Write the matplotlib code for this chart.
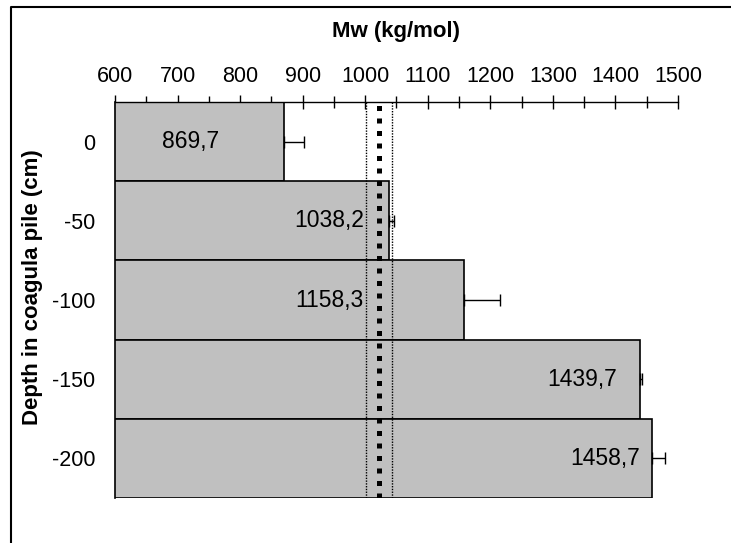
import numpy as np
import matplotlib.pyplot as plt
from matplotlib.lines import Line2D

plt.rcParams['font.family'] = ['Liberation Sans', 'DejaVu Sans']

# Molecular weight per depth in the coagula pile
depths = ['0', '-50', '-100', '-150', '-200']
mw = [869.7, 1038.2, 1158.3, 1439.7, 1458.7]
mw_err = [32, 8, 57, 3, 21]
mw_ref = 1022
mw_ref_band = 21

fig = plt.figure(figsize=(7.31, 5.43), dpi=100)
ax = fig.add_axes([115 / 731, 1 - 498 / 543, 563 / 731, 396 / 543])

y = np.arange(len(depths))
ax.barh(y, mw, height=1.0, left=0, color='#c0c0c0', edgecolor='black',
        linewidth=1.2, zorder=2)
ax.errorbar(mw, y, xerr=[np.zeros(len(mw)), mw_err], fmt='none',
            ecolor='black', elinewidth=1, capsize=4, capthick=1, zorder=3)

# reference value with its band
ax.axvline(mw_ref, color='black', lw=3.6, linestyle=(0, (1, 1.5)),
           dash_capstyle='butt', zorder=4)
for v in (mw_ref - mw_ref_band, mw_ref + mw_ref_band):
    ax.axvline(v, color='black', lw=1.0, linestyle=(0, (1, 1)), zorder=4)

# value labels, right-aligned inside each bar
label_gap = [65, 25, 101, 23, 12]
for yi, v, g in zip(y, mw, label_gap):
    ax.annotate(f'{v:.1f}'.replace('.', ','), (v, yi), xytext=(-g, 0),
                textcoords='offset pixels', ha='right', va='center',
                fontsize=16.5, zorder=5)

ax.set_xlim(600, 1500)
ax.set_ylim(len(depths) - 0.5, -0.5)
ax.xaxis.set_ticks_position('top')
ax.xaxis.set_label_position('top')
ax.set_xticks(np.arange(600, 1501, 100))
ax.set_xticks(np.arange(650, 1500, 100), minor=True)
ax.tick_params(axis='x', which='major', direction='inout', length=10,
               width=1, labelsize=15.5, pad=6)
ax.tick_params(axis='x', which='minor', direction='inout', length=8, width=1)
ax.set_yticks(y)
ax.set_yticklabels(depths)
ax.tick_params(axis='y', length=0, labelsize=15.5, pad=14)
for s in ('right', 'bottom'):
    ax.spines[s].set_visible(False)
ax.spines['top'].set_linewidth(1)
ax.spines['left'].set_linewidth(1.2)

fig.text(396.5 / 731, 1 - 31 / 543, 'Mw (kg/mol)', ha='center', va='center',
         fontsize=16, fontweight='bold')
fig.text(33 / 731, 1 - 287 / 543, 'Depth in coagula pile (cm)', ha='center',
         va='center', rotation=90, fontsize=16, fontweight='bold')

# chart frame
fig.add_artist(Line2D([11 / 731, 11 / 731, 1], [0, 1 - 7 / 543, 1 - 7 / 543],
                      transform=fig.transFigure, color='black', lw=1.5))

fig.savefig('out.png', dpi=100)
